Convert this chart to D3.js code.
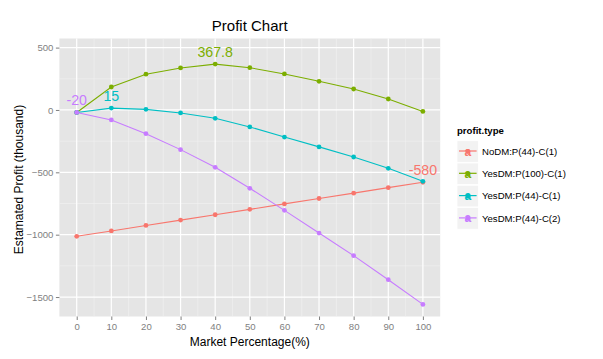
<!DOCTYPE html>
<html><head><meta charset="utf-8">
<script src="https://cdn.jsdelivr.net/npm/d3@7"></script>
<style>body{margin:0;background:#fff;} text{font-family:"Liberation Sans",Arial,Helvetica,sans-serif;}</style>
</head><body><svg id="c" width="603" height="359"></svg>
<script>
const marketPct = [0,10,20,30,40,50,60,70,80,90,100];
const seriesNames = ["NoDM:P(44)-C(1)","YesDM:P(100)-C(1)","YesDM:P(44)-C(1)","YesDM:P(44)-C(2)"];
const noDM_P44_C1 = [-1013,-970,-926,-883,-840,-797,-753,-710,-667,-623,-580];
const yesDM_P100_C1 = [-20,184,287,337,367.8,339,289,230,168,88,-12];
const yesDM_P44_C1 = [-20,15,5,-24,-67,-136,-217,-296,-377,-468,-572];
const yesDM_P44_C2 = [-20,-80,-190,-318,-460,-628,-805,-987,-1168,-1361,-1559];
const seriesColors = ["#F8766D","#7CAE00","#00BFC4","#C77CFF"];
const xTicks = [0,10,20,30,40,50,60,70,80,90,100];
const yTicks = [500,0,-500,-1000,-1500];
const yMinor = [250,-250,-750,-1250];
const xMinor = [5,15,25,35,45,55,65,75,85,95];
// annotations: [series index, x value, y value, text]
const annotations = [[3,0,-20,"-20"],[2,10,15,"15"],[1,40,367.8,"367.8"],[0,100,-580,"-580"]];

const seriesValues = [noDM_P44_C1, yesDM_P100_C1, yesDM_P44_C1, yesDM_P44_C2];
const svg = d3.select("#c");
const L=59.4,R=440.2,T=38.5,B=316.5;
const x = d3.scaleLinear().domain([-5,105]).range([L,R]);
const y = d3.scaleLinear().domain([-1656,573]).range([B,T]);

svg.append("rect").attr("x",L).attr("y",T).attr("width",R-L).attr("height",B-T).attr("fill","#E5E5E5");
const g = svg.append("g");
g.selectAll(".ymn").data(yMinor).join("line").attr("x1",L).attr("x2",R).attr("y1",d=>y(d)).attr("y2",d=>y(d)).attr("stroke","#F2F2F2").attr("stroke-width",0.6);
g.selectAll(".xmn").data(xMinor).join("line").attr("y1",T).attr("y2",B).attr("x1",d=>x(d)).attr("x2",d=>x(d)).attr("stroke","#F2F2F2").attr("stroke-width",0.6);
g.selectAll(".ymj").data(yTicks).join("line").attr("x1",L).attr("x2",R).attr("y1",d=>y(d)).attr("y2",d=>y(d)).attr("stroke","#fff").attr("stroke-width",1.2);
g.selectAll(".xmj").data(xTicks).join("line").attr("y1",T).attr("y2",B).attr("x1",d=>x(d)).attr("x2",d=>x(d)).attr("stroke","#fff").attr("stroke-width",1.2);

// axes
const xa = svg.append("g").attr("transform",`translate(0,${B})`).call(d3.axisBottom(x).tickValues(xTicks).tickFormat(d3.format("d")).tickSize(3.5).tickPadding(3).tickSizeOuter(0));
const ya = svg.append("g").attr("transform",`translate(${L},0)`).call(d3.axisLeft(y).tickValues(yTicks).tickFormat(d3.format("d")).tickSize(3.5).tickPadding(2.5).tickSizeOuter(0));
[xa,ya].forEach(a=>{a.select(".domain").remove();a.selectAll("line").attr("stroke","#7F7F7F");a.selectAll("text").attr("fill","#7F7F7F").style("font-size","9.6px").style("font-family","Liberation Sans, Arial, sans-serif");});

// series
const line = d3.line().x((d,i)=>x(marketPct[i])).y(d=>y(d));
seriesValues.forEach((vals,si)=>{
  svg.append("path").attr("d",line(vals)).attr("fill","none").attr("stroke",seriesColors[si]).attr("stroke-width",1.1);
  svg.selectAll(null).data(vals).join("circle").attr("cx",(d,i)=>x(marketPct[i])).attr("cy",d=>y(d)).attr("r",2.4).attr("fill",seriesColors[si]);
});
svg.selectAll(".ann").data(annotations).join("text").attr("x",d=>x(d[1])).attr("y",d=>y(d[2]+100)).attr("text-anchor","middle").attr("dy","0.36em").attr("fill",d=>seriesColors[d[0]]).style("font-size","14.2px").text(d=>d[3]);

// titles
svg.append("text").attr("x",(L+R)/2).attr("y",31).attr("text-anchor","middle").style("font-size","15px").attr("fill","#000").text("Profit Chart");
svg.append("text").attr("x",(L+R)/2).attr("y",346).attr("text-anchor","middle").style("font-size","12px").text("Market Percentage(%)");
svg.append("text").attr("transform",`translate(23,${(T+B)/2+2}) rotate(-90)`).attr("text-anchor","middle").style("font-size","12px").text("Estamated Profit (thousand)");

// legend
const lg = svg.append("g");
lg.append("text").attr("x",457).attr("y",133.5).style("font-size","9.6px").style("font-weight","bold").text("profit.type");
seriesNames.forEach((nm,i)=>{
  const cy = 151.5 + i*22.3;
  lg.append("rect").attr("x",457).attr("y",cy-10.8).attr("width",21.6).attr("height",21.6).attr("fill","#F2F2F2").attr("stroke","#fff").attr("stroke-width",0.8);
  lg.append("line").attr("x1",459).attr("x2",476.6).attr("y1",cy-0.5).attr("y2",cy-0.5).attr("stroke",seriesColors[i]).attr("stroke-width",1.2);
  lg.append("circle").attr("cx",467.8).attr("cy",cy).attr("r",2.4).attr("fill",seriesColors[i]);
  lg.append("text").attr("x",467.8).attr("y",cy+4).attr("text-anchor","middle").attr("fill",seriesColors[i]).style("font-size","12px").style("font-weight","bold").text("a");
  lg.append("text").attr("x",482).attr("y",cy).attr("dy","0.35em").style("font-size","9.6px").text(nm);
});
</script></body></html>
